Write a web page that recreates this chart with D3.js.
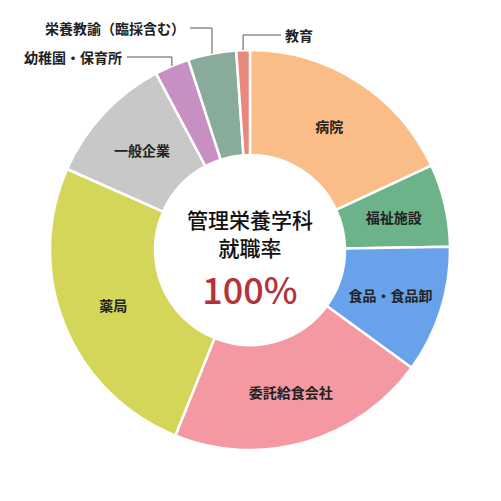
<!DOCTYPE html>
<html>
<head>
<meta charset="utf-8">
<script src="https://cdn.jsdelivr.net/npm/d3@7"></script>
<style>
  html, body { margin: 0; padding: 0; background: #fff; }
  svg { display: block; font-family: "Noto Sans CJK JP", "Noto Sans", sans-serif; }
</style>
</head>
<body>
<div id="chart"></div>
<script>
// data (share in %)
const categories = ['病院', '福祉施設', '食品・食品卸', '委託給食会社', '薬局', '一般企業', '幼稚園・保育所', '栄養教諭（臨採含む）', '教育'];
const values = [18.1, 6.7, 10.3, 21.1, 25.6, 10.6, 2.8, 3.9, 1.1];
const colors = ['#fbbd88', '#6db38a', '#67a2eb', '#f498a1', '#d4d65a', '#c8c8c8', '#c78fc2', '#88ab9c', '#e8897d'];
const centerTitle = ['管理栄養学科', '就職率'];
const centerValue = '100%';

// small slices get an outside label with a leader line
const outsideLabels = {
  '幼稚園・保育所': { y: 57, x: 127, side: 'left' },
  '栄養教諭（臨採含む）': { y: 28, x: 190, side: 'left' },
  '教育': { y: 35, x: 281, side: 'right' }
};

const width = 501, height = 501;
const cx = 250, cy = 250;
const outerR = 200, innerR = 95;

const svg = d3.select('#chart').append('svg')
  .attr('width', width)
  .attr('height', height);

const g = svg.append('g')
  .attr('transform', `translate(${cx},${cy})`);

const data = categories.map((c, i) => ({ name: c, value: values[i], color: colors[i] }));

const pie = d3.pie().value(d => d.value).sort(null);
const arcs = pie(data);

const arcGen = d3.arc()
  .innerRadius(innerR)
  .outerRadius(outerR);

//slices
g.selectAll('path')
  .data(arcs)
  .enter()
  .append('path')
  .attr('d', arcGen)
  .attr('fill', d => d.data.color)
  .attr('stroke', '#fff')
  .attr('stroke-width', 2.5);

//inside labels
g.selectAll('text.inside')
  .data(arcs.filter(d => !outsideLabels[d.data.name]))
  .enter()
  .append('text')
  .attr('class', 'inside')
  .attr('transform', d => `translate(${arcGen.centroid(d)})`)
  .attr('text-anchor', 'middle')
  .attr('dominant-baseline', 'central')
  .style('font-size', '14px')
  .style('font-weight', 'bold')
  .style('fill', '#222')
  .text(d => d.data.name);

//outside labels with leader lines
arcs.filter(d => outsideLabels[d.data.name]).forEach(d => {
  const cfg = outsideLabels[d.data.name];
  const mid = (d.startAngle + d.endAngle) / 2;
  const ax = outerR * Math.sin(mid);
  const ay = -outerR * Math.cos(mid);
  const ey = cfg.y - cy;
  const ex = cfg.x - cx;

  g.append('path')
    .attr('d', `M${ax},${ay}V${ey}H${ex}`)
    .attr('fill', 'none')
    .attr('stroke', '#555')
    .attr('stroke-width', 1);

  g.append('text')
    .attr('x', cfg.side === 'left' ? ex - 5 : ex + 4)
    .attr('y', ey)
    .attr('text-anchor', cfg.side === 'left' ? 'end' : 'start')
    .attr('dominant-baseline', 'central')
    .style('font-size', '14px')
    .style('font-weight', 'bold')
    .style('fill', '#222')
    .text(d.data.name);
});

//center text
g.selectAll('text.title')
  .data(centerTitle)
  .enter()
  .append('text')
  .attr('class', 'title')
  .attr('x', 0)
  .attr('y', (d, i) => -31 + i * 28)
  .attr('text-anchor', 'middle')
  .attr('dominant-baseline', 'central')
  .style('font-size', '21px')
  .style('font-weight', '500')
  .style('fill', '#111')
  .text(d => d);

g.append('text')
  .attr('x', 0)
  .attr('y', 38)
  .attr('text-anchor', 'middle')
  .attr('dominant-baseline', 'central')
  .style('font-size', '36px')
  .style('font-weight', '500')
  .style('fill', '#b5323a')
  .text(centerValue);
</script>
</body>
</html>
